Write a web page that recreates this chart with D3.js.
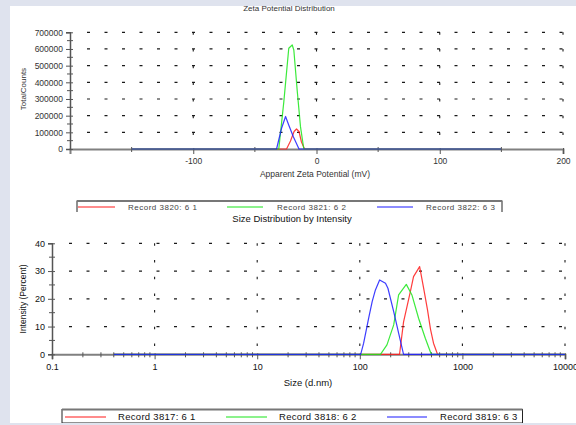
<!DOCTYPE html>
<html><head><meta charset="utf-8">
<script src="https://cdn.jsdelivr.net/npm/d3@7"></script>
<style>
body{margin:0;background:#dfe3ee;}
svg{display:block;font-family:"Liberation Sans",Arial,sans-serif;}
</style>
</head><body><svg id="c" width="576" height="425"></svg>
<script>
// ---------- DATA ----------
const zetaTitle = "Zeta Potential Distribution";
const zetaXLabel = "Apparent Zeta Potential (mV)";
const zetaYLabel = "TotalCounts";
const zetaXTicks = [-100, 0, 100, 200];
const zetaXMinor = [-150, -50, 50, 150];
const zetaYTicks = [0, 100000, 200000, 300000, 400000, 500000, 600000, 700000];
const zetaNames = ["Record 3820: 6 1", "Record 3821: 6 2", "Record 3822: 6 3"];
const zeta3820 = [[-150,0],[-24.3,0],[-21.1,48000],[-18.2,105000],[-16.2,120000],[-14.2,105000],[-12.2,42000],[-9.7,0],[150,0]];
const zeta3821 = [[-150,0],[-30.6,0],[-26.5,284000],[-22.5,604000],[-19.7,624000],[-18.4,594000],[-15.7,354000],[-13.0,134000],[-10.3,0],[150,0]];
const zeta3822 = [[-150,0],[-32.4,0],[-28.4,123000],[-25.1,195000],[-22.7,147000],[-18.7,72000],[-14.2,0],[150,0]];

const sizeTitle = "Size Distribution by Intensity";
const sizeXLabel = "Size (d.nm)";
const sizeYLabel = "Intensity (Percent)";
const sizeXTicks = [0.1, 1, 10, 100, 1000, 10000];
const sizeYTicks = [0, 10, 20, 30, 40];
const sizeNames = ["Record 3817: 6 1", "Record 3818: 6 2", "Record 3819: 6 3"];
const size3817 = [[0.4,0],[244,0],[267,11.7],[311,22.6],[334,28],[383,31.6],[418,24],[457,16],[489,9],[523,4],[572,0],[10000,0]];
const size3818 = [[0.4,0],[159,0],[184,3.4],[214,10.6],[239,21.4],[284,25.2],[322,21.4],[374,13],[435,5.8],[497,0],[10000,0]];
const size3819 = [[0.4,0],[102,0],[109,4],[122,13],[132,19],[142,23.2],[156,26.8],[178,25.6],[188,23.8],[214,15.4],[239,7.6],[267,0],[10000,0]];

const seriesColors = ["#ff1a1a", "#1ae61a", "#1a1aff"];

// ---------- DRAW ----------
const svg = d3.select("#c");
svg.append("rect").attr("x",0).attr("y",0).attr("width",576).attr("height",425).attr("fill","#dfe3ee");
svg.append("rect").attr("x",10).attr("y",6).attr("width",566).attr("height",417).attr("fill","#ffffff");

const hyphenInt = d => String(Math.round(d));

function drawPanel(opt){
  const g = svg.append("g");
  const x = opt.x, y = opt.y;
  const [x0,x1] = x.range(), [y0,y1] = y.range();
  opt.yTicks.forEach(t=>{
    if(t===0) return;
    g.append("line").attr("x1",x0+17).attr("x2",x1+2).attr("y1",y(t)).attr("y2",y(t))
      .attr("stroke","#1a1a1a").attr("stroke-width",1.2).attr("stroke-dasharray","3,14.5");
  });
  opt.vGrid.forEach(t=>{
    g.append("line").attr("x1",x(t)).attr("x2",x(t)).attr("y1",y1).attr("y2",y0-3)
      .attr("stroke","#1a1a1a").attr("stroke-width",1.1).attr("stroke-dasharray","2.5,14.2");
  });
  const xa = g.append("g").attr("transform",`translate(0,${y0})`)
    .call(opt.xAxis.tickValues(opt.xTicks).tickSize(5).tickPadding(opt.xPad).tickFormat(opt.xFmt));
  xa.select(".domain").attr("stroke","#808080").attr("stroke-width",2);
  xa.selectAll(".tick line").attr("stroke","#555").attr("y1",-1);
  xa.selectAll("text").attr("font-size",opt.fs).attr("fill",opt.tc);
  opt.xMinor.forEach(t=>{
    g.append("line").attr("x1",x(t)).attr("x2",x(t)).attr("y1",y0-2).attr("y2",y0+3)
      .attr("stroke","#555").attr("stroke-width",1);
  });
  const ya = g.append("g").attr("transform",`translate(${x0},0)`)
    .call(d3.axisLeft(y).tickValues(opt.yTicks).tickSize(4).tickPadding(3).tickFormat(hyphenInt));
  ya.select(".domain").attr("stroke","#555").attr("stroke-width",1.5);
  ya.selectAll(".tick line").attr("stroke","#555").attr("x1",3);
  ya.selectAll("text").attr("font-size",opt.fs).attr("fill",opt.tc);
  opt.yMinor.forEach(t=>{
    g.append("line").attr("x1",x0-3).attr("x2",x0+3).attr("y1",y(t)).attr("y2",y(t))
      .attr("stroke","#555").attr("stroke-width",1);
  });
  const line = d3.line().x(d=>x(d[0])).y(d=>y(d[1]));
  opt.series.forEach((s,i)=>{
    g.append("path").datum(s).attr("d",line).attr("fill","none")
      .attr("stroke",seriesColors[i]).attr("stroke-width",1.2).attr("stroke-opacity",0.85)
      .attr("stroke-linejoin","round");
  });
}

const zx = d3.scaleLinear().domain([-200,200]).range([70,563]);
const zy = d3.scaleLinear().domain([0,700000]).range([149,32.3]);
drawPanel({x:zx,y:zy,xAxis:d3.axisBottom(zx),xTicks:zetaXTicks,xMinor:zetaXMinor,xFmt:hyphenInt,xPad:4,
  yTicks:zetaYTicks,yMinor:zetaYTicks.slice(0,-1).map((v,i)=>(v+zetaYTicks[i+1])/2),
  vGrid:zetaXTicks,series:[zeta3820,zeta3821,zeta3822],fs:"8.5px",tc:"#333"});

const sx = d3.scaleLog().domain([0.1,10000]).range([52,565]);
const sy = d3.scaleLinear().domain([0,40]).range([354.3,243.3]);
const sMinor = [];
sizeXTicks.slice(0,-1).forEach(d=>{for(let k=2;k<10;k++) sMinor.push(d*k);});
drawPanel({x:sx,y:sy,xAxis:d3.axisBottom(sx),xTicks:sizeXTicks,xMinor:sMinor,xFmt:d=>String(d),xPad:4,
  yTicks:sizeYTicks,yMinor:[5,15,25,35],
  vGrid:sizeXTicks.slice(1),series:[size3817,size3818,size3819],fs:"9px",tc:"#111"});

svg.append("text").attr("x",289).attr("y",11).attr("text-anchor","middle").attr("font-size","8px").attr("fill","#333").text(zetaTitle);
svg.append("text").attr("x",315).attr("y",176.5).attr("text-anchor","middle").attr("font-size","8.5px").attr("fill","#333").text(zetaXLabel);
svg.append("text").attr("transform","translate(26,89) rotate(-90)").attr("text-anchor","middle").attr("font-size","8px").attr("fill","#333").text(zetaYLabel);
svg.append("text").attr("x",308).attr("y",385.5).attr("text-anchor","middle").attr("font-size","9.5px").attr("fill","#111").text(sizeXLabel);
svg.append("text").attr("transform","translate(26,299) rotate(-90)").attr("text-anchor","middle").attr("font-size","8.5px").attr("fill","#111").text(sizeYLabel);

function legend(x0,y0,w,h,items,lineX,textX,ty,fs,col,ls){
  const g = svg.append("g");
  g.append("rect").attr("x",x0).attr("y",y0).attr("width",w).attr("height",h).attr("fill","#fff").attr("stroke","#222").attr("stroke-width",1);
  g.append("line").attr("x1",x0).attr("x2",x0+w).attr("y1",y0).attr("y2",y0).attr("stroke","#777").attr("stroke-width",2);
  items.forEach((t,i)=>{
    g.append("line").attr("x1",lineX[i][0]).attr("x2",lineX[i][1]).attr("y1",ty-3).attr("y2",ty-3)
      .attr("stroke",seriesColors[i]).attr("stroke-width",1.2);
    g.append("text").attr("x",textX[i]).attr("y",ty).attr("font-size",fs).attr("fill",col)
      .attr("letter-spacing",ls).text(t);
  });
}
legend(77,201,425,14,zetaNames,[[78,115],[227,263],[377,413]],[128,277,426],210,"8px","#444","0.5px");
legend(62,409.5,460.5,13.5,sizeNames,[[65,106],[226,267],[387,427]],[118,279,440],420,"9.5px","#111","0.3px");
svg.append("rect").attr("x",70).attr("y",212).attr("width",440).attr("height",14).attr("fill","#fff");
svg.append("text").attr("x",292).attr("y",222).attr("text-anchor","middle").attr("font-size","9.5px").attr("fill","#111").text(sizeTitle);
svg.append("rect").attr("x",0).attr("y",0).attr("width",576).attr("height",5.5).attr("fill","#dfe3ee");
svg.append("rect").attr("x",0).attr("y",423).attr("width",576).attr("height",2).attr("fill","#dfe3ee");
</script></body></html>
